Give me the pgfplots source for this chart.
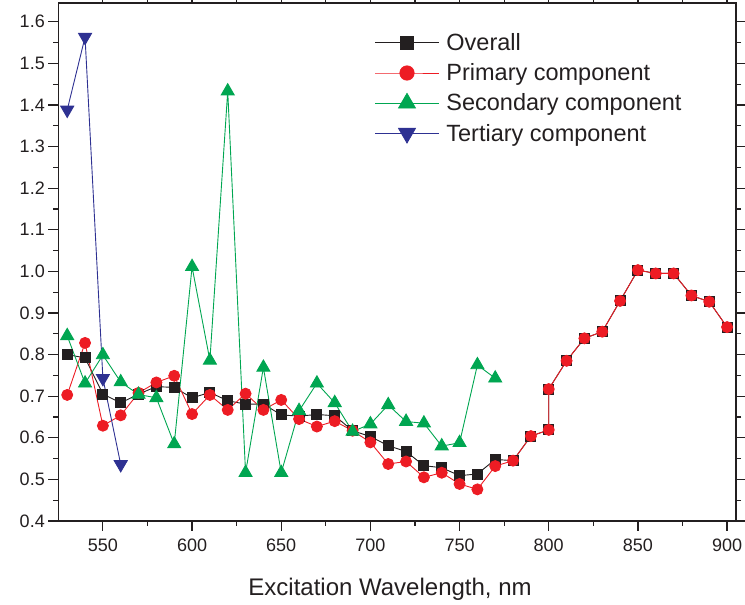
\documentclass[border=0pt]{standalone}
\usepackage{pgfplots}
\pgfplotsset{compat=1.18}
\usepackage{fontspec}
\setmainfont{Liberation Sans}

\definecolor{ovc}{RGB}{35,31,32}
\definecolor{prc}{RGB}{237,28,36}
\definecolor{sec}{RGB}{0,166,81}
\definecolor{tec}{RGB}{46,49,146}

% Relative intensity against excitation wavelength
\pgfplotstableread{
x y
530 0.800
540 0.792
550 0.705
560 0.684
570 0.705
580 0.723
590 0.721
600 0.696
610 0.709
620 0.689
630 0.681
640 0.681
650 0.655
660 0.652
670 0.656
680 0.653
690 0.617
700 0.603
710 0.581
720 0.567
730 0.533
740 0.528
750 0.509
760 0.513
770 0.548
780 0.545
790 0.604
800 0.619
800 0.717
810 0.785
820 0.839
830 0.855
840 0.929
850 1.003
860 0.995
870 0.995
880 0.942
890 0.927
900 0.866
}\overall

\pgfplotstableread{
x y
530 0.703
540 0.828
550 0.629
560 0.654
570 0.708
580 0.733
590 0.749
600 0.657
610 0.703
620 0.667
630 0.706
640 0.667
650 0.691
660 0.645
670 0.627
680 0.640
690 0.617
700 0.589
710 0.537
720 0.543
730 0.505
740 0.516
750 0.489
760 0.476
770 0.532
780 0.545
790 0.604
800 0.619
800 0.717
810 0.785
820 0.839
830 0.855
840 0.929
850 1.003
860 0.995
870 0.995
880 0.942
890 0.927
900 0.866
}\primary

\pgfplotstableread{
x y
530 0.845
540 0.731
550 0.799
560 0.734
570 0.704
580 0.696
590 0.585
600 1.011
610 0.786
620 1.433
630 0.516
640 0.769
650 0.516
660 0.665
670 0.731
680 0.684
690 0.615
700 0.633
710 0.679
720 0.639
730 0.635
740 0.580
750 0.588
760 0.775
770 0.743
}\secondary

\pgfplotstableread{
x y
530 1.388
540 1.563
550 0.743
560 0.536
}\tertiary

\begin{document}
\begin{tikzpicture}
\useasboundingbox (0,0) rectangle (745pt,605pt);
\begin{axis}[
  at={(58.3pt,84pt)}, anchor=south west,
  width=677.7pt, height=518pt, scale only axis,
  xmin=525, xmax=905, ymin=0.4, ymax=1.645,
  xtick={550,600,650,700,750,800,850,900}, minor x tick num=1,
  ytick={0.4,0.5,0.6,0.7,0.8,0.9,1.0,1.1,1.2,1.3,1.4,1.5,1.6}, minor y tick num=1,
  tick align=outside, major tick length=10pt, minor tick length=5pt,
  axis line style={line width=1.4pt, ovc},
  every tick/.style={line width=1.2pt, ovc},
  /pgf/number format/assume math mode=true,
  yticklabel style={/pgf/number format/fixed, /pgf/number format/fixed zerofill,
    /pgf/number format/precision=1, font=\fontsize{18}{20}\selectfont, text=ovc},
  xticklabel style={font=\fontsize{18}{20}\selectfont, text=ovc, yshift=-4pt},
  xlabel={Excitation Wavelength, nm},
  xlabel style={font=\fontsize{24}{28}\selectfont, text=ovc,
    at={(axis description cs:0.4895,0)}, anchor=base, yshift=-75pt},
  legend style={at={(rel axis cs:0.462,0.949)}, anchor=north west, draw=none, fill=none,
    font=\fontsize{23.5}{27}\selectfont, text=ovc, row sep=7.6pt,
    cells={anchor=west},
    /tikz/every odd column/.append style={column sep=5pt}},
  legend image code/.code={\draw[mark repeat=2, mark phase=2, line width=0.8pt,
      every mark/.append style={scale=1.3}]
    plot coordinates {(0pt,0pt) (32pt,0pt) (64pt,0pt)};},
  legend cell align=left,
]
\addplot[ovc, line width=0.9pt, mark=square*, mark size=5pt,
  mark options={fill=ovc, draw=none}] table[x=x,y=y] {\overall};
\addlegendentry{Overall}
\addplot[prc, line width=0.9pt, mark=*, mark size=5.5pt,
  mark options={fill=prc, draw=none}] table[x=x,y=y] {\primary};
\addlegendentry{Primary component}
\addplot[sec, line width=0.9pt, mark=triangle*, mark size=7.5pt,
  mark options={fill=sec, draw=none}] table[x=x,y=y] {\secondary};
\addlegendentry{Secondary component}
\addplot[tec, line width=0.9pt, mark=triangle*, mark size=7.5pt,
  mark options={fill=tec, draw=none, rotate=180}] table[x=x,y=y] {\tertiary};
\addlegendentry{Tertiary component}
\end{axis}
\end{tikzpicture}
\end{document}
